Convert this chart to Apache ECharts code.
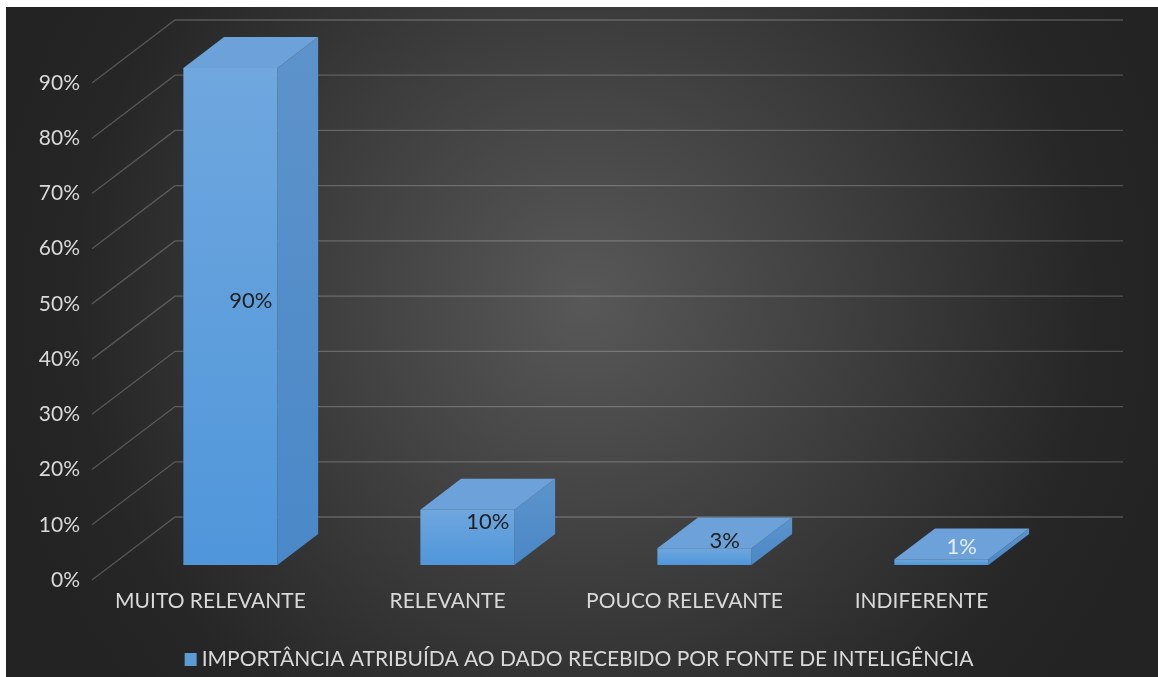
<!DOCTYPE html>
<html>
<head>
<meta charset="utf-8">
<script src="https://cdn.jsdelivr.net/npm/echarts@6/dist/echarts.min.js"></script>
<style>
  html, body { margin: 0; padding: 0; background: #fff; }
  #chart { width: 1158px; height: 677px; }
</style>
</head>
<body>
<div id="chart"></div>
<script>
// Categories and values (percent)
const categories = ['MUITO RELEVANTE', 'RELEVANTE', 'POUCO RELEVANTE', 'INDIFERENTE'];
const values = [90, 10, 3, 1];
const seriesName = 'IMPORTÂNCIA ATRIBUÍDA AO DADO RECEBIDO POR FONTE DE INTELIGÊNCIA';
const yTicks = [0, 10, 20, 30, 40, 50, 60, 70, 80, 90];

// Perspective of the 3D box: full floor depth in pixels
const DEPTH_DX = 83;
const DEPTH_DY = -63;
const BAR_FRONT = 0.24;   // fraction of depth where the bar front sits
const BAR_BACK = 0.73;    // fraction of depth where the bar back sits
const BAR_WIDTH_RATIO = 0.397;

const FONT = 'Lato, "Open Sans", sans-serif';
const TEXT_COLOR = '#d9d9d9';
const labelColors = ['#202020', '#202020', '#202020', '#e6edf5'];

const chart = echarts.init(document.getElementById('chart'), null, { renderer: 'canvas' });

function renderWalls(params, api) {
  const cs = params.coordSys;
  const v = api.value(1);
  const y = api.coord([0, v])[1];
  const left = cs.x;
  const right = cs.x + cs.width;
  return {
    type: 'polyline',
    shape: {
      points: [
        [left, y],
        [left + DEPTH_DX, y + DEPTH_DY],
        [right + DEPTH_DX, y + DEPTH_DY]
      ]
    },
    style: { stroke: 'rgba(255,255,255,0.22)', lineWidth: 1.3, fill: null },
    silent: true
  };
}

function renderBar(params, api) {
  const i = api.value(0);
  const v = api.value(1);
  const base = api.coord([i, 0]);
  const top = api.coord([i, v]);
  const bw = api.size([1, 0])[0] * BAR_WIDTH_RATIO;
  const fdx = DEPTH_DX * BAR_FRONT, fdy = DEPTH_DY * BAR_FRONT;
  const bdx = DEPTH_DX * (BAR_BACK - BAR_FRONT), bdy = DEPTH_DY * (BAR_BACK - BAR_FRONT);
  const xl = base[0] - bw / 2 + fdx;
  const xr = xl + bw;
  const yb = base[1] + fdy;
  const yt = top[1] + fdy;

  const frontFill = new echarts.graphic.LinearGradient(0, 0, 0, 1, [
    { offset: 0, color: '#6fa7de' },
    { offset: 1, color: '#4f96da' }
  ]);
  const sideFill = new echarts.graphic.LinearGradient(0, 0, 0, 1, [
    { offset: 0, color: '#5d93ca' },
    { offset: 1, color: '#4a88c8' }
  ]);

  return {
    type: 'group',
    children: [
      {
        type: 'polygon',
        shape: { points: [[xr, yt], [xr + bdx, yt + bdy], [xr + bdx, yb + bdy], [xr, yb]] },
        style: { fill: sideFill }
      },
      {
        type: 'polygon',
        shape: { points: [[xl, yt], [xr, yt], [xr + bdx, yt + bdy], [xl + bdx, yt + bdy]] },
        style: { fill: '#6ca2d9' }
      },
      {
        type: 'rect',
        shape: { x: xl, y: yt, width: bw, height: yb - yt },
        style: { fill: frontFill }
      },
      {
        type: 'text',
        x: xl + bw / 2 + bdx / 2,
        y: (yt + yb) / 2 + bdy / 2,
        style: {
          text: v + '%',
          fill: labelColors[i],
          font: '22px ' + FONT,
          align: 'center',
          verticalAlign: 'middle'
        },
        z2: 10
      }
    ]
  };
}

const option = {
  backgroundColor: '#ffffff',
  animation: false,
  graphic: [
    {
      type: 'rect',
      z: -10,
      silent: true,
      shape: { x: 6, y: 7, width: 1152, height: 670 },
      style: {
        fill: new echarts.graphic.RadialGradient(585, 300, 600, [
          { offset: 0, color: '#585858' },
          { offset: 0.45, color: '#3e3e3e' },
          { offset: 0.85, color: '#262626' },
          { offset: 1, color: '#232323' }
        ], true)
      }
    }
  ],
  legend: {
    data: [seriesName],
    bottom: 2,
    left: 'center',
    icon: 'rect',
    itemWidth: 12,
    itemHeight: 13,
    itemGap: 8,
    textStyle: { color: TEXT_COLOR, fontSize: 21, fontFamily: FONT }
  },
  grid: { left: 92, right: 118, top: 83, bottom: 97 },
  xAxis: {
    type: 'category',
    data: categories,
    axisLine: { show: false },
    axisTick: { show: false },
    axisLabel: { color: TEXT_COLOR, fontSize: 21, fontFamily: FONT, margin: 11, interval: 0 }
  },
  yAxis: {
    type: 'value',
    min: 0,
    max: 90,
    interval: 10,
    splitLine: { show: false },
    axisLine: { show: false },
    axisTick: { show: false },
    axisLabel: { color: TEXT_COLOR, fontSize: 21, fontFamily: FONT, margin: 12, formatter: '{value}%' }
  },
  series: [
    {
      type: 'custom',
      name: 'walls',
      renderItem: renderWalls,
      data: yTicks.map(t => [0, t]),
      silent: true,
      z: 1
    },
    {
      type: 'custom',
      name: seriesName,
      renderItem: renderBar,
      itemStyle: { color: '#5b9bd5' },
      data: values.map((v, i) => [i, v]),
      z: 3
    }
  ]
};

chart.setOption(option);
</script>
</body>
</html>
